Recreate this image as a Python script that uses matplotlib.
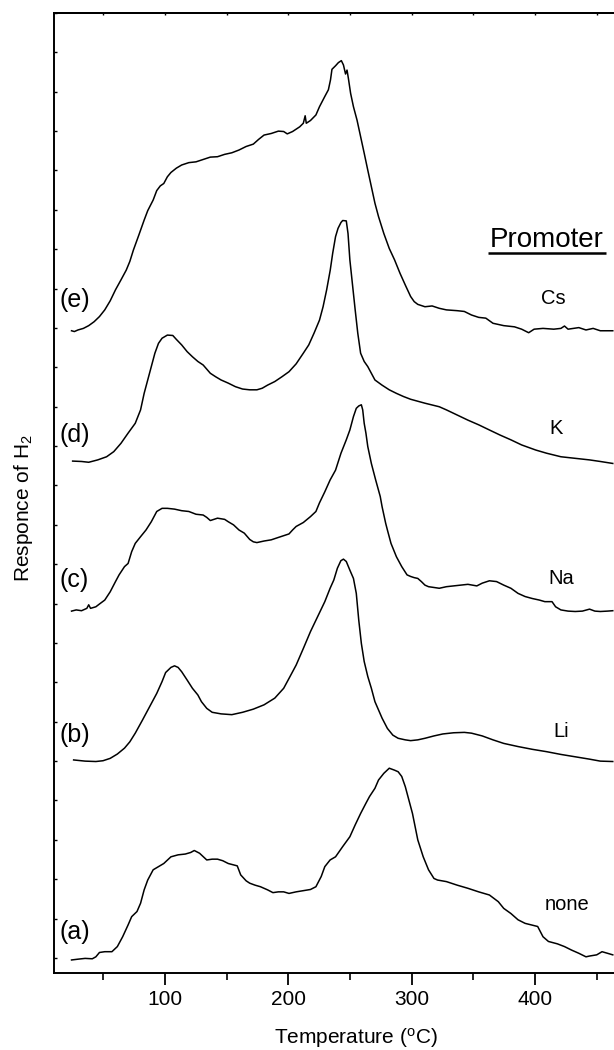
import matplotlib
matplotlib.use("Agg")
import matplotlib.pyplot as plt
from matplotlib.ticker import MultipleLocator

plt.rcParams["font.family"] = ["Liberation Sans", "DejaVu Sans"]
plt.rcParams["mathtext.fontset"] = "custom"
plt.rcParams["mathtext.rm"] = "Liberation Sans"
plt.rcParams["mathtext.it"] = "Liberation Sans:italic"

# TPR traces: temperature (degC) and stacked H2 response (arbitrary units)
temp_cs = [24.5, 26.8, 29.7, 34.1, 38.4, 42.8, 47.1, 51.4, 55.8, 60.1, 64.5, 68.8, 71.7,
           74.6, 79.0, 83.3, 86.2, 90.6, 93.5, 96.4, 99.2, 102.1, 105.0, 109.4, 113.7,
           119.5, 125.3, 131.1, 136.9, 142.7, 148.5, 154.3, 160.1, 165.9, 171.7, 176.0,
           180.4, 186.2, 192.0, 196.3, 199.2, 203.5, 209.3, 212.2, 213.7, 214.6, 218.0,
           222.4, 225.3, 229.6, 232.5, 234.2, 235.4, 238.3, 240.6, 243.0, 244.7, 246.4,
           247.6, 248.7, 250.5, 252.8, 255.7, 258.6, 261.5, 264.4, 267.3, 270.2, 273.1,
           277.4, 281.8, 286.1, 290.5, 294.8, 299.1, 302.0, 304.9, 310.7, 316.5, 322.3,
           328.1, 336.8, 342.6, 348.4, 354.2, 360.0, 365.8, 374.5, 383.2, 389.0, 394.7,
           399.1, 406.3, 415.0, 420.8, 423.7, 426.6, 435.3, 441.1, 446.9, 452.7, 462.8]
resp_cs = [15.93, 15.91, 15.95, 15.99, 16.06, 16.16, 16.29, 16.46, 16.69, 16.97, 17.22, 17.47, 17.69,
           17.98, 18.36, 18.74, 18.98, 19.25, 19.49, 19.61, 19.67, 19.84, 19.95, 20.06, 20.14,
           20.20, 20.22, 20.28, 20.34, 20.35, 20.41, 20.45, 20.52, 20.61, 20.67, 20.79,
           20.90, 20.94, 21.00, 20.99, 20.93, 20.99, 21.11, 21.20, 21.39, 21.20, 21.27,
           21.41, 21.62, 21.88, 22.05, 22.30, 22.57, 22.66, 22.74, 22.79, 22.68, 22.45,
           22.55, 22.34, 21.96, 21.62, 21.28, 20.86, 20.44, 20.01, 19.59, 19.17, 18.83,
           18.40, 18.02, 17.73, 17.39, 17.09, 16.80, 16.67, 16.60, 16.54, 16.56, 16.50,
           16.46, 16.44, 16.42, 16.33, 16.27, 16.25, 16.12, 16.06, 16.03, 15.97, 15.88,
           15.97, 15.99, 15.97, 15.99, 16.05, 15.97, 16.01, 15.95, 15.99, 15.93, 15.93]

temp_k = [25.4, 32.6, 38.4, 45.7, 52.9, 58.7, 64.5, 70.3, 76.1, 80.4, 83.3, 86.2, 89.1,
          92.0, 94.9, 97.8, 102.1, 106.5, 109.4, 113.7, 118.1, 122.4, 126.8, 131.1, 136.9,
          141.3, 145.6, 151.4, 157.2, 163.0, 168.8, 174.6, 178.9, 183.3, 189.1, 194.8,
          200.6, 206.4, 212.2, 216.6, 220.9, 225.3, 228.2, 231.1, 234.0, 236.0, 238.3,
          240.3, 242.7, 244.1, 247.0, 248.4, 249.9, 252.2, 254.2, 256.3, 258.6, 261.5,
          264.4, 267.3, 270.2, 275.9, 281.8, 287.6, 293.3, 299.1, 310.7, 322.3, 328.1,
          336.8, 345.5, 354.3, 362.9, 371.6, 380.3, 389.0, 400.5, 409.2, 420.8, 432.4,
          444.0, 452.7, 462.8]
resp_k = [12.62, 12.61, 12.59, 12.65, 12.73, 12.86, 13.07, 13.33, 13.58, 13.92, 14.34, 14.68, 15.02,
          15.36, 15.61, 15.74, 15.82, 15.81, 15.71, 15.57, 15.40, 15.27, 15.15, 15.06, 14.85,
          14.76, 14.68, 14.60, 14.51, 14.45, 14.43, 14.43, 14.47, 14.55, 14.64, 14.76,
          14.89, 15.09, 15.36, 15.57, 15.87, 16.20, 16.54, 16.97, 17.47, 17.90, 18.32,
          18.53, 18.68, 18.73, 18.72, 18.40, 17.73, 17.05, 16.46, 15.87, 15.36, 15.15,
          15.02, 14.85, 14.68, 14.55, 14.43, 14.34, 14.26, 14.19, 14.09, 14.00, 13.92,
          13.79, 13.66, 13.54, 13.41, 13.28, 13.16, 13.03, 12.90, 12.82, 12.73, 12.69,
          12.65, 12.61, 12.56]

temp_na = [24.5, 28.3, 32.6, 36.9, 38.4, 39.9, 44.2, 47.1, 51.4, 55.8, 60.1, 63.0, 67.4,
           70.3, 73.2, 76.1, 80.4, 84.8, 89.1, 93.5, 97.8, 102.1, 107.9, 113.7, 119.5,
           125.3, 131.1, 134.0, 136.9, 139.8, 142.7, 148.5, 151.4, 155.7, 160.1, 164.4,
           168.8, 171.7, 174.6, 180.4, 186.2, 191.9, 197.7, 200.6, 203.5, 206.4, 212.2,
           218.0, 222.4, 225.3, 229.6, 233.9, 238.3, 242.7, 247.0, 249.9, 252.8, 255.1,
           257.1, 259.2, 260.3, 261.5, 262.9, 264.4, 267.3, 270.8, 274.5, 276.0, 278.9,
           280.3, 283.2, 287.6, 291.9, 296.2, 299.1, 302.0, 304.9, 307.8, 310.7, 313.6,
           318.0, 322.3, 328.1, 333.9, 339.7, 345.5, 352.7, 357.1, 362.9, 368.7, 374.5,
           380.3, 386.1, 391.8, 397.6, 403.4, 407.8, 413.6, 416.5, 420.8, 426.6, 432.4,
           438.2, 444.0, 448.3, 452.7, 458.5, 462.8]
resp_na = [8.81, 8.84, 8.82, 8.88, 8.97, 8.88, 8.92, 8.99, 9.09, 9.30, 9.56, 9.73, 9.94,
           10.02, 10.32, 10.53, 10.70, 10.87, 11.08, 11.34, 11.42, 11.42, 11.40, 11.36, 11.34,
           11.27, 11.25, 11.19, 11.11, 11.14, 11.17, 11.14, 11.08, 11.00, 10.87, 10.79,
           10.63, 10.57, 10.55, 10.59, 10.62, 10.68, 10.74, 10.77, 10.87, 10.96, 11.06,
           11.21, 11.34, 11.56, 11.84, 12.14, 12.39, 12.82, 13.16, 13.41, 13.75, 13.96,
           14.02, 14.05, 13.92, 13.58, 13.33, 12.99, 12.56, 12.14, 11.72, 11.46, 11.04,
           10.87, 10.53, 10.19, 9.94, 9.73, 9.69, 9.66, 9.64, 9.56, 9.47, 9.43,
           9.41, 9.39, 9.43, 9.45, 9.47, 9.49, 9.45, 9.52, 9.58, 9.56, 9.47,
           9.39, 9.26, 9.18, 9.13, 9.09, 9.05, 9.05, 8.92, 8.84, 8.81, 8.80,
           8.81, 8.86, 8.81, 8.80, 8.81, 8.82]

temp_li = [26.2, 35.5, 44.2, 50.0, 55.8, 61.6, 67.4, 71.7, 76.1, 81.9, 87.7, 93.5, 97.8,
           100.7, 105.0, 107.9, 110.8, 113.7, 118.1, 122.4, 126.8, 129.7, 134.0, 138.4,
           145.6, 154.3, 163.0, 171.7, 180.4, 189.1, 196.3, 200.6, 206.4, 212.2, 218.0,
           223.8, 229.6, 233.9, 236.9, 239.8, 242.6, 244.7, 247.0, 249.9, 252.8, 255.1,
           257.1, 259.2, 261.5, 264.4, 267.3, 270.2, 273.1, 276.0, 280.3, 284.7, 289.0,
           294.8, 299.1, 304.9, 310.7, 318.0, 325.2, 333.9, 342.6, 348.4, 357.1, 365.8,
           374.5, 386.1, 397.6, 409.2, 420.8, 432.4, 444.0, 452.7, 462.8]
resp_li = [5.03, 5.00, 4.99, 5.01, 5.07, 5.18, 5.33, 5.49, 5.71, 6.04, 6.38, 6.72, 7.02,
           7.25, 7.38, 7.42, 7.38, 7.27, 7.06, 6.85, 6.68, 6.51, 6.34, 6.24,
           6.20, 6.18, 6.24, 6.32, 6.43, 6.60, 6.85, 7.10, 7.44, 7.86, 8.29,
           8.67, 9.05, 9.39, 9.60, 9.90, 10.09, 10.13, 10.07, 9.85, 9.64, 9.26,
           8.58, 7.99, 7.53, 7.15, 6.85, 6.51, 6.30, 6.09, 5.83, 5.66, 5.58,
           5.54, 5.52, 5.54, 5.58, 5.64, 5.69, 5.72, 5.73, 5.71, 5.64, 5.54,
           5.45, 5.37, 5.30, 5.24, 5.17, 5.11, 5.05, 5.00, 4.99]

temp_none = [24.5, 29.7, 35.5, 41.3, 44.2, 47.1, 51.4, 57.2, 61.6, 65.9, 70.3, 73.2, 77.5,
             80.4, 83.3, 86.2, 90.6, 94.9, 99.2, 105.0, 110.8, 116.6, 121.0, 123.9, 128.2,
             134.0, 138.4, 142.7, 147.0, 151.4, 158.7, 161.5, 165.9, 168.8, 173.1, 177.5,
             183.3, 187.6, 192.0, 196.3, 200.6, 206.4, 212.2, 218.0, 222.4, 226.7, 229.6,
             233.9, 238.3, 244.1, 249.9, 254.2, 258.6, 262.9, 265.8, 270.2, 273.1, 277.4,
             281.8, 286.1, 289.0, 291.9, 294.8, 297.7, 300.6, 304.9, 309.3, 313.6, 318.0,
             320.9, 328.1, 336.8, 345.5, 354.2, 362.9, 370.1, 374.5, 380.3, 386.1, 391.8,
             402.0, 406.3, 410.7, 417.9, 423.7, 429.5, 435.3, 441.1, 444.0, 449.8, 454.1,
             458.5, 462.8]
resp_none = [-0.05, -0.03, -0.01, -0.02, 0.03, 0.14, 0.16, 0.16, 0.29, 0.54, 0.84, 1.05, 1.18,
             1.39, 1.73, 1.98, 2.24, 2.32, 2.40, 2.57, 2.62, 2.64, 2.68, 2.73, 2.66,
             2.49, 2.51, 2.51, 2.47, 2.40, 2.34, 2.11, 1.96, 1.90, 1.85, 1.81,
             1.73, 1.66, 1.68, 1.68, 1.64, 1.68, 1.71, 1.74, 1.81, 2.07, 2.32,
             2.49, 2.57, 2.83, 3.08, 3.38, 3.67, 3.93, 4.10, 4.31, 4.52, 4.69,
             4.82, 4.77, 4.73, 4.61, 4.35, 4.01, 3.67, 3.00, 2.57, 2.24, 2.02,
             1.98, 1.94, 1.85, 1.77, 1.68, 1.60, 1.43, 1.26, 1.13, 0.97, 0.88,
             0.80, 0.54, 0.42, 0.36, 0.29, 0.20, 0.12, 0.03, 0.05, 0.08, 0.16,
             0.12, 0.08]

curve_tags = ["(a)", "(b)", "(c)", "(d)", "(e)"]
tag_levels = [0.66, 5.66, 9.60, 13.28, 16.71]
promoters = ["none", "Li", "Na", "K", "Cs"]
promoter_x = [426, 421, 421, 416.5, 415]
promoter_levels = [1.35, 5.74, 9.63, 13.46, 16.74]

fig = plt.figure(figsize=(6.14, 10.50), dpi=100)
ax = fig.add_axes([54 / 614, 1 - 973 / 1050, 1 - 54 / 614, (973 - 13) / 1050])

traces = [(temp_none, resp_none), (temp_li, resp_li), (temp_na, resp_na),
          (temp_k, resp_k), (temp_cs, resp_cs)]
for t, r in traces:
    ax.plot(t, r, color="black", lw=1.1, solid_joinstyle="round")

ax.set_xlim(10.3, 463.8)
ax.set_ylim(-0.381, 24.0)

for tag, lvl in zip(curve_tags, tag_levels):
    ax.text(15, lvl, tag, fontsize=18, ha="left", va="center")
for name, xp, lvl in zip(promoters, promoter_x, promoter_levels):
    ax.text(xp, lvl, name, fontsize=14.5, ha="center", va="center")

ax.text(409, 18.23, "Promoter", fontsize=20, ha="center", va="center")
ax.plot([361.5, 457.0], [17.90, 17.90], color="black", lw=1.8, solid_capstyle="butt")

# axes styling
ax.spines["right"].set_visible(False)
for s in ("left", "bottom", "top"):
    ax.spines[s].set_linewidth(1.4)

ax.xaxis.set_major_locator(MultipleLocator(100))
ax.xaxis.set_minor_locator(MultipleLocator(50))
ax.yaxis.set_major_locator(MultipleLocator(1))
ax.tick_params(axis="x", which="major", direction="out", length=8.5, width=1.3,
               labelsize=15, pad=4, top=False)
ax.tick_params(axis="x", which="minor", direction="out", length=5, width=1.2, top=False)
ax.tick_params(axis="y", which="major", direction="in", length=2, width=1.0,
               labelleft=False)

# small inward marks along the top edge
top = ax.secondary_xaxis("top")
top.xaxis.set_major_locator(MultipleLocator(50))
top.tick_params(direction="in", length=1.5, width=1.0, labeltop=False)
top.spines["top"].set_linewidth(1.4)

fig.text(356 / 614, 1 - 1038 / 1050, "Temperature ($^\\mathrm{o}$C)", fontsize=15,
         ha="center", va="center")
fig.text(24 / 614, 1 - 508 / 1050, "Responce of H$_2$", fontsize=15, rotation=90,
         ha="center", va="center")

fig.savefig("out.png", dpi=100)
